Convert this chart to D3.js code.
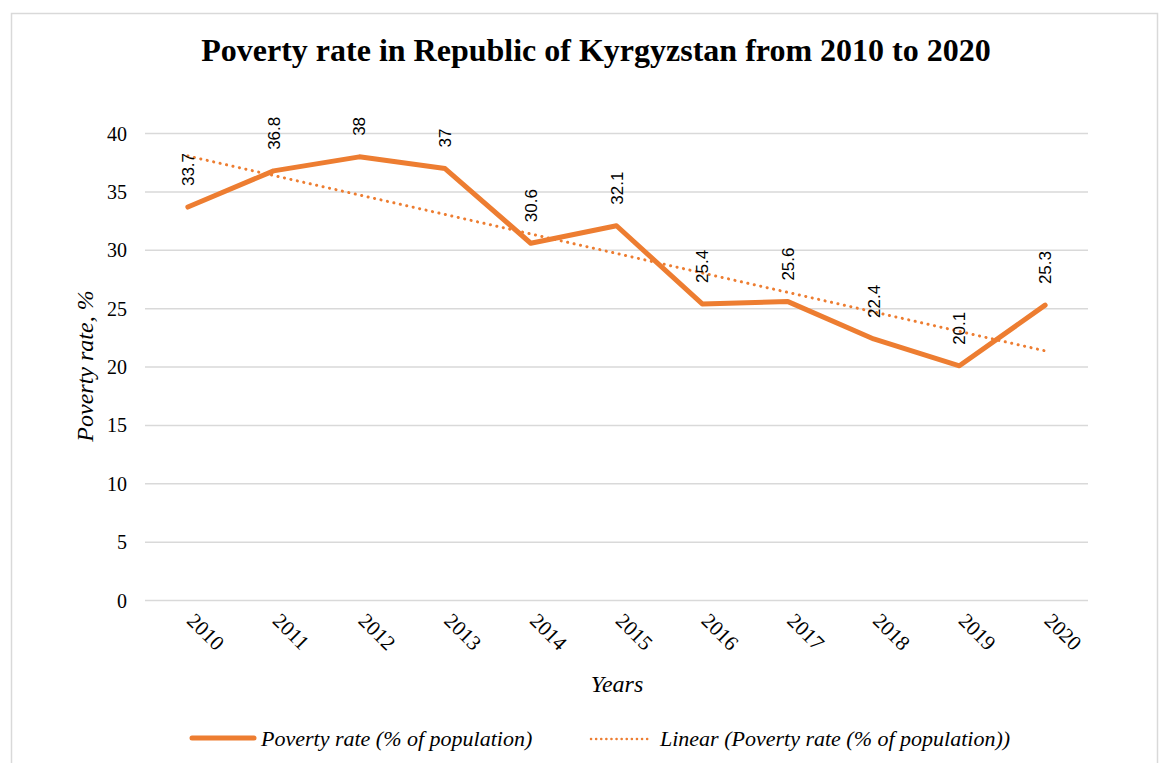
<!DOCTYPE html>
<html>
<head>
<meta charset="utf-8">
<script src="https://cdn.jsdelivr.net/npm/d3@7"></script>
<style>
  body { margin: 0; background: #fff; }
  svg { display: block; }
</style>
</head>
<body>
<svg id="chart" width="1169" height="763"></svg>
<script>
const years = ["2010","2011","2012","2013","2014","2015","2016","2017","2018","2019","2020"];
const povertyRate = [33.7, 36.8, 38, 37, 30.6, 32.1, 25.4, 25.6, 22.4, 20.1, 25.3];
const yTicks = [0, 5, 10, 15, 20, 25, 30, 35, 40];
const titleText = "Poverty rate in Republic of Kyrgyzstan from 2010 to 2020";
const seriesName = "Poverty rate (% of population)";
const trendName = "Linear (Poverty rate (% of population))";

const color = "#ED7D31";
const serif = "Liberation Serif, Times New Roman, serif";
const svg = d3.select("#chart");

// outer border
svg.append("rect").attr("x", 11.5).attr("y", 13.5).attr("width", 1146).attr("height", 760)
  .attr("fill", "none").attr("stroke", "#d9d9d9").attr("stroke-width", 1.5);

const x = d3.scaleBand().domain(years).range([145, 1088]);
const y = d3.scaleLinear().domain([0, 40]).range([600.5, 133.5]);
const cx = d => x(d) + x.bandwidth() / 2;

// gridlines
svg.append("g").selectAll("line").data(yTicks).join("line")
  .attr("x1", 145).attr("x2", 1088)
  .attr("y1", d => y(d)).attr("y2", d => y(d))
  .attr("stroke", "#d9d9d9").attr("stroke-width", 1.5);

// y axis labels
const yAxis = d3.axisLeft(y).tickValues(yTicks).tickSize(0).tickPadding(0);
const gy = svg.append("g").attr("transform", "translate(127,0)").call(yAxis);
gy.select(".domain").remove();
gy.selectAll("text").attr("font-family", serif)
  .attr("font-size", 20).attr("fill", "#000").attr("dy", "0.33em");

// x axis labels rotated
const xAxis = d3.axisBottom(x).tickSize(0).tickPadding(0);
const gx = svg.append("g").attr("transform", "translate(0,600)").call(xAxis);
gx.select(".domain").remove();
gx.selectAll("text")
  .attr("font-family", serif)
  .attr("font-size", 21).attr("fill", "#000")
  .attr("text-anchor", "start").attr("y", 0).attr("dy", 0)
  .attr("transform", "translate(-2,22) rotate(45)");

// linear trend (least squares)
const n = povertyRate.length;
const xs = d3.range(n);
const mx = d3.mean(xs), my = d3.mean(povertyRate);
const slope = d3.sum(xs, i => (i - mx) * (povertyRate[i] - my)) / d3.sum(xs, i => (i - mx) ** 2);
const icpt = my - slope * mx;
svg.append("line")
  .attr("x1", cx(years[0])).attr("y1", y(icpt))
  .attr("x2", cx(years[n - 1])).attr("y2", y(icpt + slope * (n - 1)))
  .attr("stroke", color).attr("stroke-width", 3)
  .attr("stroke-dasharray", "0.1 6.5").attr("stroke-linecap", "round");

// main line
const line = d3.line().x((d, i) => cx(years[i])).y(d => y(d));
svg.append("path").datum(povertyRate).attr("d", line)
  .attr("fill", "none").attr("stroke", color).attr("stroke-width", 5)
  .attr("stroke-linejoin", "round").attr("stroke-linecap", "round");

// data labels
svg.append("g").selectAll("text").data(povertyRate).join("text")
  .attr("transform", (d, i) => `translate(${cx(years[i]) + 6},${y(d) - 21}) rotate(-90)`)
  .attr("text-anchor", "start")
  .attr("font-family", "Liberation Sans, Arial, sans-serif")
  .attr("font-size", 17).attr("fill", "#000")
  .text(d => d);

// title
svg.append("text").attr("x", 596).attr("y", 61).attr("text-anchor", "middle")
  .attr("font-family", serif)
  .attr("font-weight", "bold").attr("font-size", 32).attr("fill", "#000")
  .text(titleText);

// axis titles
svg.append("text").attr("transform", "translate(93,366) rotate(-90)")
  .attr("text-anchor", "middle")
  .attr("font-family", serif)
  .attr("font-style", "italic").attr("font-size", 24).attr("fill", "#000")
  .text("Poverty rate, %");
svg.append("text").attr("x", 617).attr("y", 692).attr("text-anchor", "middle")
  .attr("font-family", serif)
  .attr("font-style", "italic").attr("font-size", 24).attr("fill", "#000")
  .text("Years");

// legend
const lg = svg.append("g");
lg.append("line").attr("x1", 192).attr("x2", 254).attr("y1", 738).attr("y2", 738)
  .attr("stroke", color).attr("stroke-width", 5).attr("stroke-linecap", "round");
lg.append("text").attr("x", 261).attr("y", 746)
  .attr("font-family", serif)
  .attr("font-style", "italic").attr("font-size", 22).attr("fill", "#000")
  .text(seriesName);
lg.append("line").attr("x1", 591).attr("x2", 651).attr("y1", 739).attr("y2", 739)
  .attr("stroke", color).attr("stroke-width", 2.5)
  .attr("stroke-dasharray", "0.1 5").attr("stroke-linecap", "round");
lg.append("text").attr("x", 660).attr("y", 746)
  .attr("font-family", serif)
  .attr("font-style", "italic").attr("font-size", 22).attr("fill", "#000")
  .text(trendName);
</script>
</body>
</html>
